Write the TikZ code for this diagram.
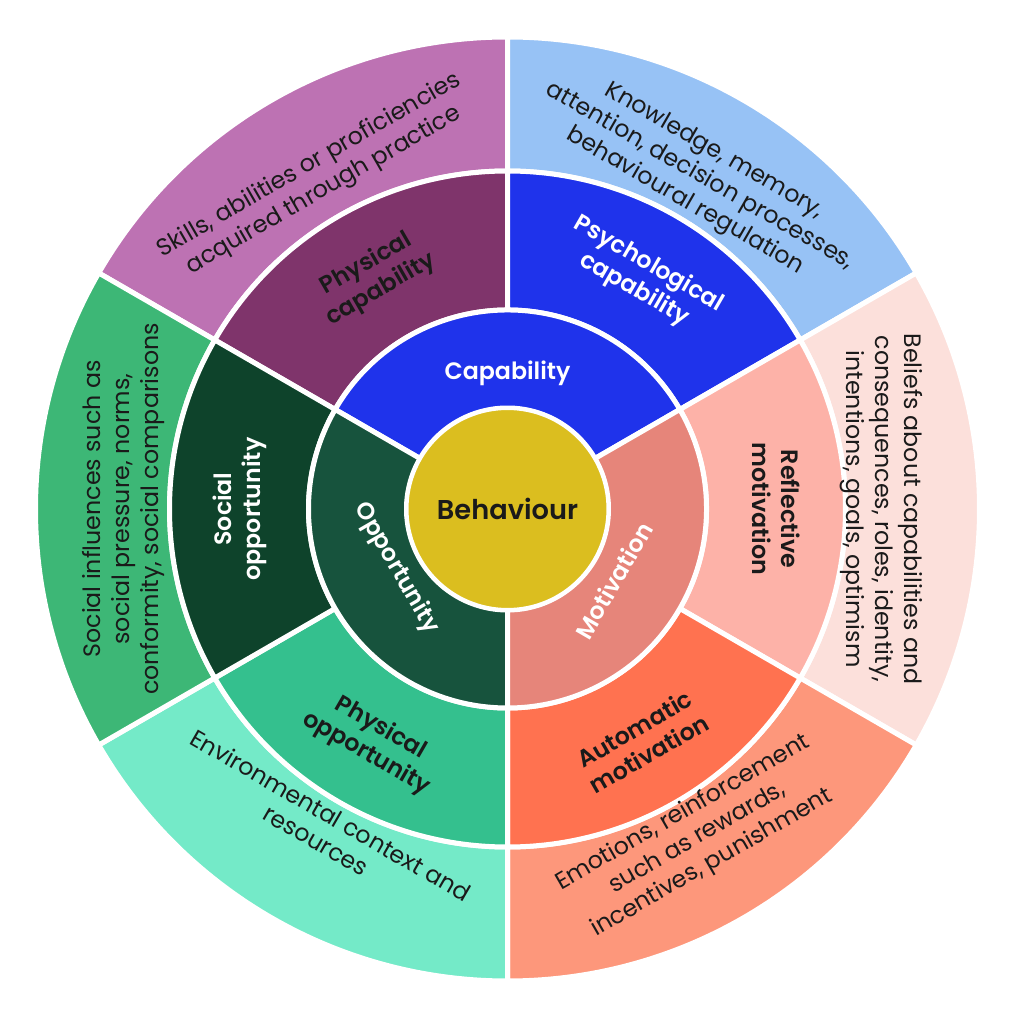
\documentclass[tikz,border=0pt]{standalone}
\usepackage{fontspec}
\setmainfont{Poppins}[BoldFont={Poppins SemiBold}]
\definecolor{skills}{HTML}{BD72B3}
\definecolor{physcap}{HTML}{7F346B}
\definecolor{knowledge}{HTML}{97C2F5}
\definecolor{psycap}{HTML}{1F33EB}
\definecolor{beliefs}{HTML}{FCE0DB}
\definecolor{reflective}{HTML}{FDB2A8}
\definecolor{emotions}{HTML}{FD977B}
\definecolor{automatic}{HTML}{FF7250}
\definecolor{motiv}{HTML}{E6857A}
\definecolor{environ}{HTML}{74EAC8}
\definecolor{physopp}{HTML}{34C08E}
\definecolor{socinf}{HTML}{3DB776}
\definecolor{socopp}{HTML}{0E432B}
\definecolor{opport}{HTML}{17533D}
\definecolor{behav}{HTML}{DBBE1F}
\definecolor{ink}{HTML}{1A1A1A}
% one piece of a ring: colour, start angle, end angle, inner radius, outer radius
\newcommand{\ringpart}[5]{\filldraw[fill=#1,draw=white,line width=0.1cm,line join=round]
	(#2:#4) arc[start angle=#2,end angle=#3,radius=#4] -- (#3:#5)
	arc[start angle=#3,end angle=#2,radius=#5] -- cycle;}
\begin{document}
\begin{tikzpicture}[x=0.02cm,y=0.02cm,
	desc/.style={align=center,text=ink,font=\fontsize{13.5}{16.5}\selectfont},
	sub/.style={align=center,text=ink,font=\bfseries\fontsize{13.5}{16.5}\selectfont},
	core/.style={text=white,font=\bfseries\fontsize{13.5}{16}\selectfont}]
	\useasboundingbox (-507.5,-515) rectangle (511.5,509);
	% outer ring
	\ringpart{skills}{90}{150}{338}{472}
	\ringpart{knowledge}{30}{90}{338}{472}
	\ringpart{beliefs}{-30}{30}{338}{472}
	\ringpart{emotions}{-90}{-30}{338}{472}
	\ringpart{environ}{210}{270}{338}{472}
	\ringpart{socinf}{150}{210}{338}{472}
	% middle ring
	\ringpart{physcap}{90}{150}{199}{338}
	\ringpart{psycap}{30}{90}{199}{338}
	\ringpart{reflective}{-30}{30}{199}{338}
	\ringpart{automatic}{-90}{-30}{199}{338}
	\ringpart{physopp}{210}{270}{199}{338}
	\ringpart{socopp}{150}{210}{199}{338}
	% inner ring
	\ringpart{psycap}{30}{150}{101}{199}
	\ringpart{opport}{150}{270}{101}{199}
	\ringpart{motiv}{270}{390}{101}{199}
	\node[circle,fill=behav,draw=white,line width=0.08cm,minimum size=4.04cm,
		text=ink,font=\bfseries\fontsize{15.5}{20}\selectfont] (behaviour) at (0,0) {Behaviour};
	% labels
	\node[core] (capability) at (90:136) {Capability};
	\node[core,rotate=60] (motivation) at (-34:128) {Motivation};
	\node[core,rotate=-60] (opportunity) at (208:126) {Opportunity};
	\node[sub,rotate=30] (physicalcap) at (120:268) {Physical\\capability};
	\node[sub,text=white,rotate=-30] (psychcap) at (60:268) {Psychological\\capability};
	\node[sub,rotate=-90] (reflectmot) at (0:269) {Reflective\\motivation};
	\node[sub,rotate=30] (automot) at (-60:268) {Automatic\\motivation};
	\node[sub,rotate=-30] (physicalopp) at (240:268) {Physical\\opportunity};
	\node[sub,text=white,rotate=90] (socialopp) at (180:268) {Social\\opportunity};
	\node[desc,rotate=30] (skillstext) at (120:382) {Skills, abilities or proficiencies\\acquired through practice};
	\node[desc,rotate=-30] (knowtext) at (60:384) {Knowledge, memory,\\attention, decision processes,\\behavioural regulation};
	\node[desc,rotate=-90] (belieftext) at (0:374) {Beliefs about capabilities and\\consequences, roles, identity,\\intentions, goals, optimism};
	\node[desc,rotate=30] (emotext) at (-60:380) {Emotions, reinforcement\\such as rewards,\\incentives, punishment};
	\node[desc,rotate=-30] (envtext) at (240:368) {Environmental context and\\resources};
	\node[desc,rotate=90] (socialtext) at (180:384) {Social influences such as\\social pressure, norms,\\conformity, social comparisons};
	\end{tikzpicture}
\end{document}
